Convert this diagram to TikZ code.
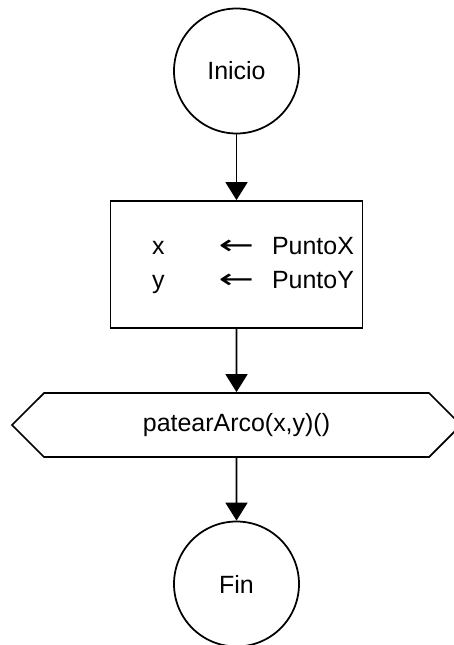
\documentclass[tikz,border=0pt]{standalone}
\usepackage{fontspec}
\setmainfont{Liberation Sans}
\newfontfamily\arrowfont{DejaVu Sans}
\usetikzlibrary{positioning}
\usetikzlibrary{shapes.symbols}
\usetikzlibrary{arrows.meta}

% assignment arrow, a bit wider than the glyph
\newcommand{\assignarrow}{\scalebox{1.7}[1.1]{\arrowfont ←}}

\begin{document}
\begin{tikzpicture}[
      , terminal/.style={circle, draw, line width=1pt, inner sep=0pt, minimum size=2.5cm}
      , process/.style={rectangle, draw, line width=1pt, inner sep=0pt, minimum width=5.04cm, minimum height=2.54cm}
      , callout/.style={signal, signal to=west and east, signal pointer angle=90, draw, line width=1pt, inner sep=0pt, minimum width=8.98cm, minimum height=1.28cm}
      , flow/.style={-{Triangle[length=0.36cm, width=0.44cm]}, line width=1pt}
      , on grid
      , font=\fontsize{14.2}{19.9}\selectfont
      ]

      \useasboundingbox (0,0) rectangle (9.06,-12.9);

      \node[terminal] (inicio) at (4.73,-1.42) {Inicio};
      \node[process, below = 3.87cm of inicio] (asignar)
        {\begin{tabular}{@{\hspace{0.66cm}}l@{\hspace{1.08cm}}c@{\hspace{0.36cm}}l@{}}
           x & \assignarrow & PuntoX\\
           y & \assignarrow & PuntoY
         \end{tabular}};
      \node[callout, below = 3.21cm of asignar] (patear) {patearArco(x,y)()};
      \node[terminal, below = 3.18cm of patear] (fin) {Fin};

      \draw[flow] (inicio) -- (asignar);
      \draw[flow] (asignar) -- (patear);
      \draw[flow] (patear) -- (fin);
\end{tikzpicture}
\end{document}
